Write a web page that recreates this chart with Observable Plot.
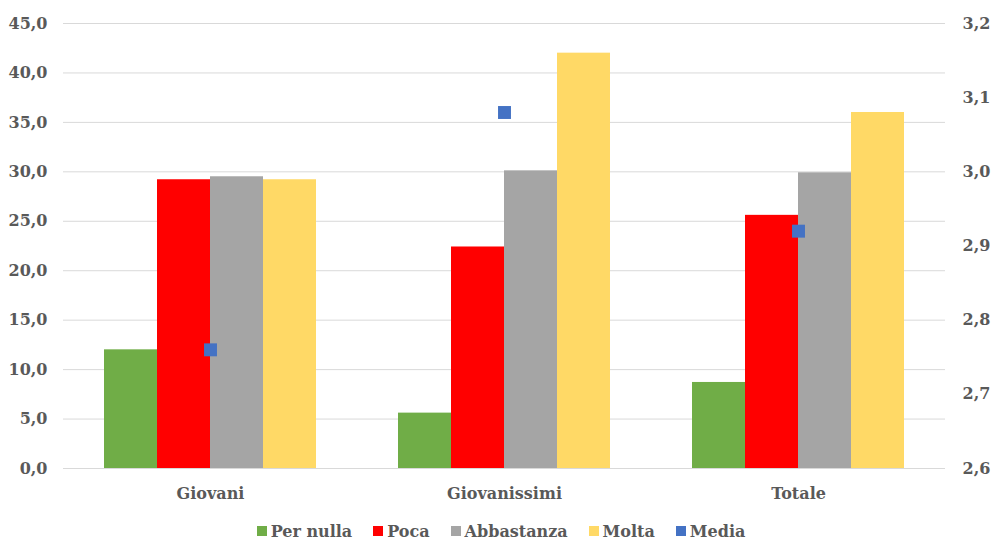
<!DOCTYPE html>
<html>
<head>
<meta charset="utf-8">
<script src="https://cdn.jsdelivr.net/npm/d3@7"></script>
<script src="https://cdn.jsdelivr.net/npm/@observablehq/plot@0.6"></script>
<style>
  html, body { margin: 0; padding: 0; background: #fff; }
  #chart { width: 992px; }
  .legend { display: flex; justify-content: center; align-items: center; gap: 21px;
    font-family: "DejaVu Serif", serif; font-weight: bold; font-size: 16px; color: #595959;
    height: 24px; margin-top: 3px; margin-left: 10px; }
  .legend span.item { display: flex; align-items: center; gap: 4px; }
  .legend span.sw { display: inline-block; width: 10px; height: 10px; }
</style>
</head>
<body>
<div id="chart"></div>
<script>
const groups = ["Giovani", "Giovanissimi", "Totale"];
const series = ["Per nulla", "Poca", "Abbastanza", "Molta"];
const perNulla = [12.0, 5.6, 8.7];
const poca = [29.2, 22.4, 25.6];
const abbastanza = [29.5, 30.1, 29.9];
const molta = [29.2, 42.0, 36.0];
const media = [2.76, 3.08, 2.92];
const leftTicks = [0, 5, 10, 15, 20, 25, 30, 35, 40, 45];
const rightTicks = [2.6, 2.7, 2.8, 2.9, 3.0, 3.1, 3.2];
const colors = ["#70AD47", "#FF0000", "#A5A5A5", "#FFD966"];
const mediaColor = "#4472C4";

const seriesValues = [perNulla, poca, abbastanza, molta];
const bars = [];
groups.forEach((g, gi) => series.forEach((s, si) => bars.push({group: g, series: s, value: seriesValues[si][gi]})));
const mediaData = groups.map((g, i) => ({group: g, value: media[i]}));

// secondary axis mapping (2.6–3.2 onto 0–45)
const rMin = 2.6, rMax = 3.2, lMax = 45;
const toLeft = v => (v - rMin) / (rMax - rMin) * lMax;
const fromLeft = v => rMin + v / lMax * (rMax - rMin);
const fmtL = v => d3.format(".1f")(v).replace(".", ",");
const fmtR = v => d3.format(".1f")(v).replace(".", ",");

const chart = Plot.plot({
  width: 992,
  height: 516,
  marginTop: 23,
  marginBottom: 48,
  marginLeft: 63,
  marginRight: 47,
  style: {fontFamily: "'DejaVu Serif', serif", fontWeight: "bold", fontSize: "16px", color: "#595959", background: "#fff"},
  fx: {domain: groups, paddingInner: 0, paddingOuter: 0, label: null, axis: null},
  x: {domain: series, axis: null, paddingInner: 0, paddingOuter: 0.76},
  y: {domain: [0, 45], axis: null},
  color: {domain: series, range: colors},
  marks: [
    Plot.gridY(leftTicks, {stroke: "#d9d9d9", strokeOpacity: 1, strokeWidth: 1}),
    Plot.barY(bars, {fx: "group", x: "series", y: "value", fill: "series"}),
    Plot.dot(mediaData, {fx: "group", y: d => toLeft(d.value), symbol: "square", r: 7.3, fill: mediaColor, stroke: "none"}),
    Plot.axisY(leftTicks, {anchor: "left", tickSize: 0, tickPadding: 16, tickFormat: fmtL, label: null}),
    Plot.axisY(rightTicks.map(toLeft), {anchor: "right", tickSize: 0, tickPadding: 17, tickFormat: v => fmtR(fromLeft(v)), label: null}),
    Plot.axisFx({anchor: "bottom", tickSize: 0, tickPadding: 19, label: null})
  ]
});
document.getElementById("chart").appendChild(chart);

const legend = document.createElement("div");
legend.className = "legend";
[...series.map((s, i) => [s, colors[i]]), ["Media", mediaColor]].forEach(([name, c]) => {
  const item = document.createElement("span");
  item.className = "item";
  const sw = document.createElement("span");
  sw.className = "sw";
  sw.style.background = c;
  item.appendChild(sw);
  item.appendChild(document.createTextNode(name));
  legend.appendChild(item);
});
document.getElementById("chart").appendChild(legend);
</script>
</body>
</html>
